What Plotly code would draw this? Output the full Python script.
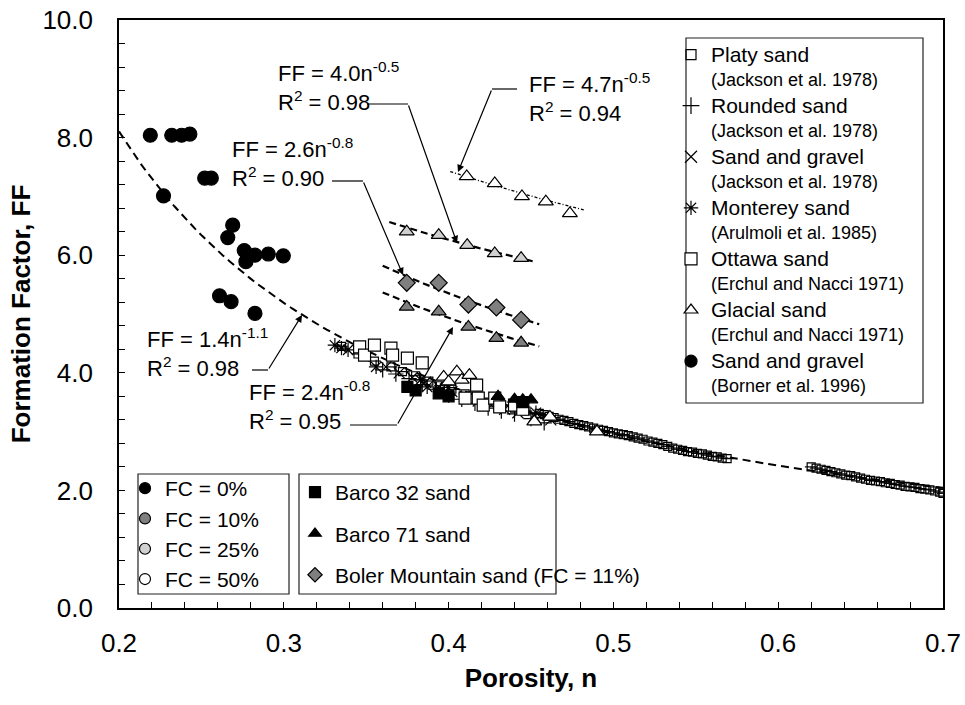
import plotly.graph_objects as go
import numpy as np

# ---------------- data ----------------
# Sand and gravel (Borner et al. 1996), FC = 0 %
borner_n = [0.219, 0.232, 0.238, 0.243, 0.227, 0.252, 0.256, 0.269, 0.266,
            0.276, 0.277, 0.2825, 0.2906, 0.2997, 0.261, 0.268, 0.2825]
borner_ff = [8.04, 8.04, 8.04, 8.06, 7.01, 7.31, 7.31, 6.51, 6.30,
             6.08, 5.89, 6.00, 6.02, 5.99, 5.31, 5.21, 5.01]

# Barco 71 sand with fines
b71_fc50_n = [0.411, 0.428, 0.4445, 0.459, 0.4736]
b71_fc50_ff = [7.34, 7.22, 7.00, 6.91, 6.71]
b71_fc25_n = [0.3746, 0.394, 0.4113, 0.428, 0.444]
b71_fc25_ff = [6.40, 6.34, 6.17, 6.03, 5.95]
b71_fc10_n = [0.3746, 0.394, 0.412, 0.429, 0.444]
b71_fc10_ff = [5.12, 5.04, 4.78, 4.59, 4.51]
boler_n = [0.3746, 0.394, 0.412, 0.429, 0.444]
boler_ff = [5.53, 5.53, 5.16, 5.11, 4.90]

# clean sands
platy_n = [0.335, 0.345, 0.355, 0.365, 0.372, 0.380, 0.388, 0.395, 0.402, 0.410,
           0.418, 0.425, 0.432, 0.440, 0.447,
           0.455, 0.458, 0.461, 0.464, 0.467, 0.470, 0.473, 0.476, 0.479, 0.482,
           0.485, 0.488, 0.491, 0.494, 0.497, 0.500, 0.503, 0.506, 0.509, 0.512,
           0.515, 0.518, 0.521, 0.524, 0.527, 0.530, 0.533, 0.536, 0.539, 0.542,
           0.545, 0.548, 0.551, 0.554, 0.557, 0.560, 0.563, 0.566, 0.569,
           0.620, 0.623, 0.626, 0.629, 0.632, 0.635, 0.638, 0.641, 0.644, 0.647,
           0.650, 0.653, 0.656, 0.659, 0.662, 0.665, 0.668, 0.671, 0.674, 0.677,
           0.680, 0.683, 0.686, 0.689, 0.692, 0.695, 0.698, 0.700]
platy_ff = [4.45, 4.32, 4.20, 4.10, 4.02, 3.95, 3.86, 3.78, 3.72, 3.64,
            3.56, 3.50, 3.45, 3.40, 3.35,
            3.31, 3.29, 3.26, 3.24, 3.21, 3.19, 3.17, 3.14, 3.12, 3.10,
            3.08, 3.06, 3.04, 3.02, 3.00, 2.98, 2.96, 2.95, 2.93, 2.91,
            2.89, 2.87, 2.84, 2.82, 2.80, 2.78, 2.75, 2.72, 2.70, 2.68,
            2.66, 2.65, 2.63, 2.62, 2.60, 2.58, 2.57, 2.55, 2.54,
            2.40, 2.38, 2.36, 2.34, 2.32, 2.30, 2.28, 2.26, 2.25, 2.23,
            2.21, 2.19, 2.17, 2.16, 2.15, 2.13, 2.12, 2.10, 2.09, 2.07,
            2.06, 2.05, 2.03, 2.02, 2.01, 1.99, 1.97, 1.95]
rounded_n = [0.360, 0.368, 0.376, 0.384, 0.392, 0.400, 0.408, 0.416, 0.424, 0.432, 0.440, 0.450, 0.458]
rounded_ff = [4.05, 3.98, 3.90, 3.80, 3.72, 3.62, 3.55, 3.48, 3.40, 3.35, 3.30, 3.22, 3.15]
gravel_n = [0.362, 0.370, 0.378, 0.386, 0.394, 0.402, 0.410, 0.418, 0.426, 0.434, 0.442, 0.452, 0.462]
gravel_ff = [4.10, 4.00, 3.92, 3.84, 3.76, 3.68, 3.60, 3.52, 3.45, 3.38, 3.32, 3.26, 3.20]
monterey_n = [0.331, 0.335, 0.339, 0.356, 0.383, 0.387, 0.395, 0.400, 0.453]
monterey_ff = [4.47, 4.42, 4.39, 4.10, 3.88, 3.76, 3.70, 3.75, 3.32]
ottawa_n = [0.346, 0.349, 0.355, 0.365, 0.366, 0.375, 0.384, 0.410, 0.417, 0.418,
            0.421, 0.428, 0.431, 0.440, 0.445]
ottawa_ff = [4.44, 4.30, 4.47, 4.42, 4.30, 4.25, 4.17, 3.57, 3.79, 3.57,
             3.45, 3.57, 3.42, 3.45, 3.38]
glacial_n = [0.397, 0.400, 0.405, 0.408, 0.4126, 0.452, 0.4615, 0.490]
glacial_ff = [3.93, 3.85, 4.02, 3.88, 3.96, 3.17, 3.25, 3.00]
barco32_n = [0.375, 0.380, 0.394, 0.400, 0.445]
barco32_ff = [3.76, 3.70, 3.65, 3.60, 3.50]
barco71_n = [0.430, 0.440, 0.445, 0.450]
barco71_ff = [3.60, 3.55, 3.54, 3.54]

# power-law fits FF = a * n^b over an n-range
fit_a = [1.38, 4.7, 3.96, 2.57, 2.37]
fit_b = [-1.1, -0.5, -0.5, -0.8, -0.8]
fit_n0 = [0.20, 0.401, 0.364, 0.360, 0.360]
fit_n1 = [0.70, 0.482, 0.451, 0.455, 0.455]

x_ticks = [0.2, 0.3, 0.4, 0.5, 0.6, 0.7]
y_ticks = [0.0, 2.0, 4.0, 6.0, 8.0, 10.0]

# ---------------- geometry helpers (pixel -> paper) ----------------
L, R, T, B = 119, 943, 20, 608
W, H = 965, 705
def px(x):
    return (x - L) / (R - L)
def py(y):
    return (B - y) / (B - T)

FONT = "Liberation Sans, Arial, sans-serif"
fig = go.Figure()

def add(n, ff, name, symbol, size, fill="black", line="black", lw=1.2,
        legend="legend", show=True, group=None):
    fig.add_trace(go.Scatter(
        x=n, y=ff, mode="markers", name=name, legend=legend, showlegend=show,
        legendgroup=group,
        marker=dict(symbol=symbol, size=size, color=fill,
                    line=dict(color=line, width=lw))))

# fit lines
dashes = ["8px,5px", "3px,2px,1px,2px", "7px,4px", "7px,4px", "7px,4px"]
widths = [2.0, 1.3, 2.2, 2.2, 2.2]
for i in range(len(fit_a)):
    nn = np.linspace(fit_n0[i], fit_n1[i], 120)
    fig.add_trace(go.Scatter(x=nn, y=fit_a[i] * nn ** fit_b[i], mode="lines",
                             line=dict(color="black", width=widths[i], dash=dashes[i]),
                             showlegend=False, hoverinfo="skip"))

# data, clean sands
add(platy_n, platy_ff, "platy_box", "square-open", 8, show=False)
add(platy_n, platy_ff, "platy_line", "line-ew-open", 9, show=False)
add(rounded_n, rounded_ff, "r", "cross-thin-open", 11, show=False)
add(gravel_n, gravel_ff, "g", "x-thin-open", 11, show=False)
add(monterey_n, monterey_ff, "m", "asterisk-open", 12, show=False)
add(ottawa_n, ottawa_ff, "o", "square", 12, fill="white", show=False)
add(glacial_n, glacial_ff, "gl", "triangle-up", 13, fill="white", show=False)
add(barco32_n, barco32_ff, "b32", "square", 11, show=False)
add(barco71_n, barco71_ff, "b71", "triangle-up", 12, show=False)
add(borner_n, borner_ff, "bo", "circle", 14, show=False)
add(b71_fc50_n, b71_fc50_ff, "f50", "triangle-up", 13, fill="white", show=False)
add(b71_fc25_n, b71_fc25_ff, "f25", "triangle-up", 13, fill="#d0d0d0", show=False)
add(b71_fc10_n, b71_fc10_ff, "f10", "triangle-up", 13, fill="#7f7f7f", show=False)
add(boler_n, boler_ff, "bm", "diamond", 13, fill="#7f7f7f", show=False)

# legend 1 entries (top right)
def two(a, b):
    return ("<span style='font-size:21px'>%s</span><br>"
            "<span style='font-size:18px'>%s</span>" % (a, b))
leg1 = [("Platy sand", "(Jackson et al. 1978)", "square-open", 10, "black"),
        ("Rounded sand", "(Jackson et al. 1978)", "cross-thin-open", 12, "black"),
        ("Sand and gravel", "(Jackson et al. 1978)", "x-thin-open", 12, "black"),
        ("Monterey sand", "(Arulmoli et al. 1985)", "asterisk-open", 12, "black"),
        ("Ottawa sand", "(Erchul and Nacci 1971)", "square", 12, "white"),
        ("Glacial sand", "(Erchul and Nacci 1971)", "triangle-up", 12, "white"),
        ("Sand and gravel", "(Borner et al. 1996)", "circle", 12, "black")]
for a, b, s, sz, f in leg1:
    add([None], [None], two(a, b), s, sz, fill=f, legend="legend")

for name, f in [("FC = 0%", "black"), ("FC = 10%", "#7f7f7f"),
                ("FC = 25%", "#d0d0d0"), ("FC = 50%", "white")]:
    add([None], [None], name, "circle", 11, fill=f, legend="legend2", group=name)

for name, s, f in [("Barco 32 sand", "square", "black"),
                   ("Barco 71 sand", "triangle-up", "black"),
                   ("Boler Mountain sand (FC = 11%)", "diamond", "#7f7f7f")]:
    add([None], [None], name, s, 11, fill=f, legend="legend3", group=name)

# ---------------- annotations ----------------
ann = []
def label(x, y1, y2, txt):
    ann.append(dict(x=px(x), y=py((y1 + y2) / 2 - 5), xref="paper", yref="paper", text=txt,
                    showarrow=False, xanchor="left", yanchor="middle", align="left",
                    font=dict(family=FONT, size=22, color="black")))
def arrow(x0, y0, x1, y1):
    ann.append(dict(x=px(x1), y=py(y1), ax=x0 - x1, ay=y0 - y1, xref="paper", yref="paper",
                    axref="pixel", ayref="pixel", text="", showarrow=True,
                    arrowhead=2, arrowsize=1.2, arrowwidth=1.2, arrowcolor="black"))
shapes = []
def seg(x0, y0, x1, y1):
    shapes.append(dict(type="line", xref="paper", yref="paper", x0=px(x0), y0=py(y0),
                       x1=px(x1), y1=py(y1), line=dict(color="black", width=1.2)))
def box(x0, y0, x1, y1):
    shapes.append(dict(type="rect", xref="paper", yref="paper", x0=px(x0), y0=py(y0),
                       x1=px(x1), y1=py(y1), line=dict(color="#222", width=1.2),
                       fillcolor="rgba(0,0,0,0)", layer="above"))

label(527, 88, 117, "FF = 4.7n<sup>-0.5</sup><br>R<sup>2</sup> = 0.94")
seg(517, 89, 492, 89); arrow(492, 89, 458, 172)
label(276, 77, 105, "FF = 4.0n<sup>-0.5</sup><br>R<sup>2</sup> = 0.98")
seg(367, 104, 408, 104); arrow(408, 104, 457, 243)
label(230, 153, 181, "FF = 2.6n<sup>-0.8</sup><br>R<sup>2</sup> = 0.90")
seg(332, 181, 363, 181); arrow(363, 181, 403, 275)
label(145, 344, 370, "FF = 1.4n<sup>-1.1</sup><br>R<sup>2</sup> = 0.98")
seg(252, 370, 268, 370); arrow(268, 370, 302, 315)
label(247, 397, 424, "FF = 2.4n<sup>-0.8</sup><br>R<sup>2</sup> = 0.95")
seg(350, 425, 397, 425); arrow(397, 425, 453, 327)

box(686, 38, 923, 403)
box(138, 474, 289, 594)
box(299, 474, 556, 594)

axis_font = dict(family=FONT, size=26, color="black")
fig.update_layout(
    width=W, height=H, margin=dict(l=L, r=W - R, t=T, b=H - B, autoexpand=False),
    paper_bgcolor="white", plot_bgcolor="white",
    font=dict(family=FONT, color="black"),
    annotations=ann, shapes=shapes,
    xaxis=dict(range=[0.2, 0.7], tickvals=x_ticks, tickformat=".1f", automargin=False,
               ticks="inside", ticklen=6, tickwidth=1.2, tickcolor="black",
               minor=dict(dtick=0.02, ticks="inside", ticklen=6, tickwidth=1.2, tickcolor="black"),
               showline=True, linecolor="black", linewidth=1.6, mirror=True,
               showgrid=False, zeroline=False, tickfont=axis_font, ticklabelstandoff=11,
               title=dict(text="<b>Porosity, n</b>", font=dict(family=FONT, size=26), standoff=12)),
    yaxis=dict(range=[0, 10], tickvals=y_ticks, tickformat=".1f", automargin=False,
               ticks="inside", ticklen=6, tickwidth=1.2, tickcolor="black",
               minor=dict(dtick=0.4, ticks="inside", ticklen=6, tickwidth=1.2, tickcolor="black"),
               showline=True, linecolor="black", linewidth=1.6, mirror=True,
               showgrid=False, zeroline=False, tickfont=axis_font, ticklabelstandoff=19,
               title=dict(text="<b>Formation Factor, FF</b>", font=dict(family=FONT, size=26), standoff=4)),
    legend=dict(x=px(671), y=py(36), xanchor="left", yanchor="top", bgcolor="rgba(0,0,0,0)",
                borderwidth=0, font=dict(family=FONT, size=18.5), valign="top",
                maxheight=650),
    legend2=dict(x=px(125), y=py(468), xanchor="left", yanchor="top", bgcolor="rgba(0,0,0,0)",
                 borderwidth=0, font=dict(family=FONT, size=21), tracegroupgap=0),
    legend3=dict(x=px(295), y=py(472), xanchor="left", yanchor="top", bgcolor="rgba(0,0,0,0)",
                 borderwidth=0, font=dict(family=FONT, size=21), tracegroupgap=11),
)
fig.write_html("out.html", config={"displayModeBar": False},
               post_script="document.body.style.margin='0';")
